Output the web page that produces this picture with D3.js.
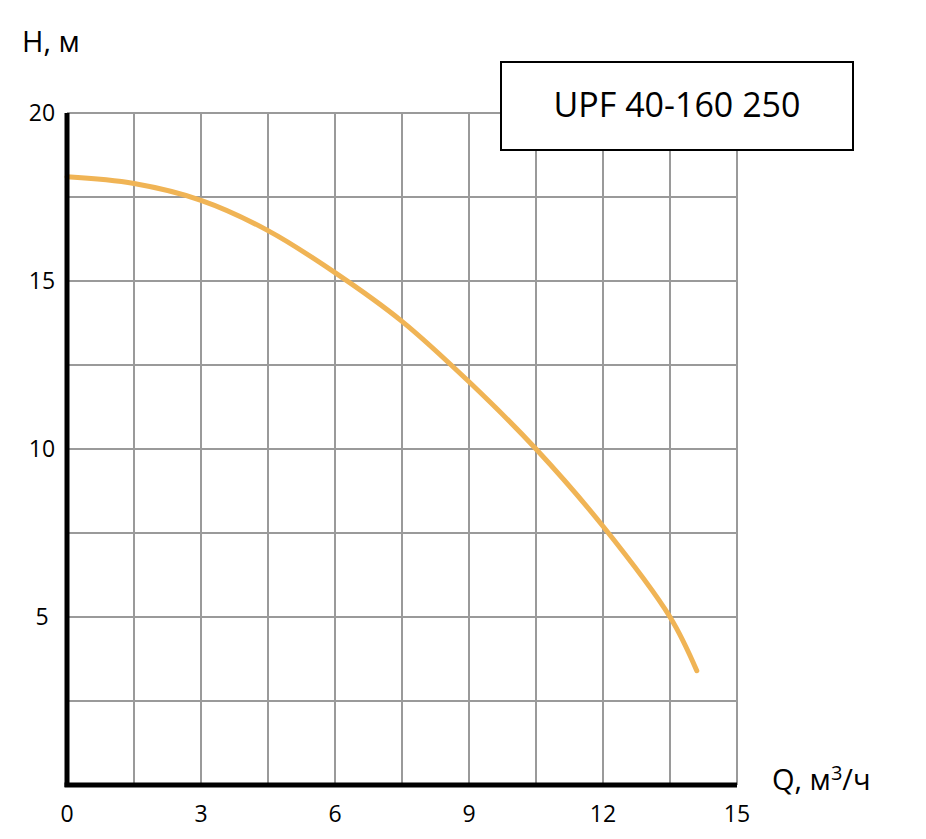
<!DOCTYPE html><html><head><meta charset="utf-8">
<script src="https://cdn.jsdelivr.net/npm/d3@7"></script>
<style>body{margin:0;background:#fff}</style></head><body>
<svg id="c" width="926" height="839"></svg>
<script>
const flow = [0, 1.5, 3, 4.5, 6, 7.5, 9, 10.5, 12, 13.5, 14.1];
const head = [18.1, 17.9, 17.4, 16.5, 15.25, 13.8, 12.0, 10.0, 7.7, 5.0, 3.4];
const xTicks = [0, 3, 6, 9, 12, 15];
const yTicks = [5, 10, 15, 20];
const title = "UPF 40-160 250";

const svg = d3.select("#c");
const font = "'Open Sans', sans-serif";
const x = d3.scaleLinear().domain([0, 15]).range([67, 737]);
const y = d3.scaleLinear().domain([0, 20]).range([785, 113]);

const g = svg.append("g");
d3.range(1, 11).forEach(i => {
  const v = i * 1.5;
  g.append("line").attr("x1", x(v)).attr("x2", x(v)).attr("y1", y(0)).attr("y2", y(20))
    .attr("stroke", "#9a9a9a").attr("stroke-width", 2);
});
d3.range(1, 9).forEach(i => {
  const v = i * 2.5;
  g.append("line").attr("x1", x(0)).attr("x2", x(15)).attr("y1", y(v)).attr("y2", y(v))
    .attr("stroke", "#9a9a9a").attr("stroke-width", 2);
});

const line = d3.line().x((d, i) => x(flow[i])).y(d => y(d)).curve(d3.curveCatmullRom);
svg.append("path").attr("d", line(head)).attr("fill", "none")
  .attr("stroke", "#f0b455").attr("stroke-width", 5).attr("stroke-linecap", "round");

svg.append("line").attr("x1", x(0)).attr("x2", x(0)).attr("y1", y(20)).attr("y2", y(0) + 2)
  .attr("stroke", "#000").attr("stroke-width", 5);
svg.append("line").attr("x1", x(0) - 2.5).attr("x2", x(15)).attr("y1", y(0)).attr("y2", y(0))
  .attr("stroke", "#000").attr("stroke-width", 5);

xTicks.forEach(t => svg.append("text").attr("x", x(t)).attr("y", 822).attr("text-anchor", "middle")
  .attr("font-family", font).attr("font-size", 23).text(t));
yTicks.forEach(t => svg.append("text").attr("x", 42).attr("y", y(t) + 8).attr("text-anchor", "middle")
  .attr("font-family", font).attr("font-size", 23).text(t));

svg.append("text").attr("x", 22).attr("y", 52).attr("font-family", font).attr("font-size", 29).text("H, м");
svg.append("text").attr("x", 772).attr("y", 790).attr("font-family", font).attr("font-size", 29)
  .html('Q, м<tspan dy="-10" font-size="20">3</tspan><tspan dy="10">/ч</tspan>');

svg.append("rect").attr("x", 501).attr("y", 62).attr("width", 352).attr("height", 88)
  .attr("fill", "#fff").attr("stroke", "#000").attr("stroke-width", 2);
svg.append("text").attr("x", 677).attr("y", 117).attr("text-anchor", "middle")
  .attr("font-family", font).attr("font-size", 34).text(title);
</script></body></html>
